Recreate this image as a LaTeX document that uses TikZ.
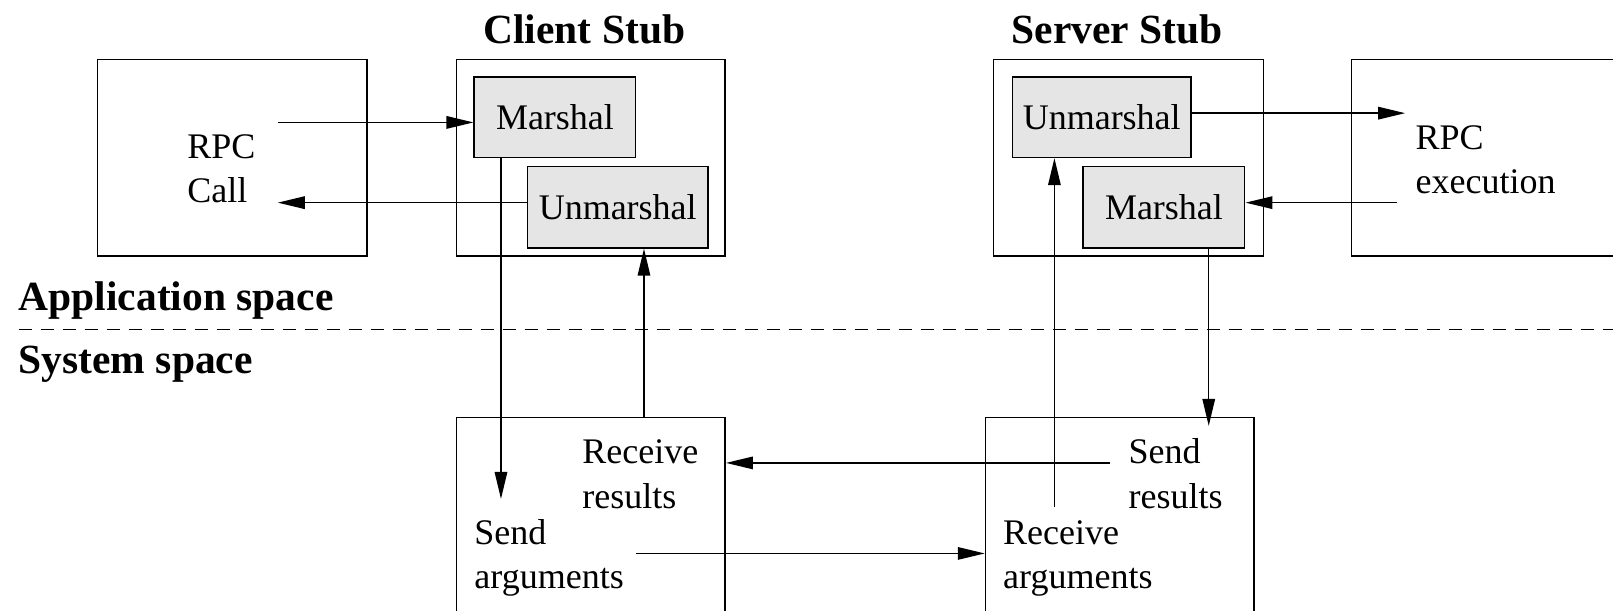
\documentclass[tikz,border=0pt]{standalone}
\usepackage{fontspec}
\setmainfont{Liberation Serif}
\usetikzlibrary{arrows.meta,fit}
\begin{document}
\begin{tikzpicture}[x=1.0287pt,y=-1.0287pt,
  box/.style={draw,line width=1.5pt,inner sep=0pt},
  inbox/.style={draw,line width=1.5pt,fill=black!10,inner sep=0pt},
  txt/.style={font=\fontsize{36}{44}\selectfont},
  lbl/.style={inner sep=0pt,anchor=base west,align=left,font=\fontsize{36}{44.2}\selectfont},
  ttl/.style={inner sep=0pt,anchor=base west,font=\fontsize{41.5}{48}\selectfont\bfseries},
  arr/.style={line width=1.5pt,-{Triangle[length=27pt,width=12.5pt]}}]
\useasboundingbox (0,0) rectangle (1568,593);
\clip (0,0) rectangle (1568,593);
% titles
\node[ttl,anchor=base] (tcs) at (568,42) {Client Stub};
\node[ttl,anchor=base] (tss) at (1086,42) {Server Stub};
\node[ttl] (tapp) at (18,302) {Application space};
\node[ttl] (tsys) at (18,363) {System space};
\draw[line width=1.3pt,dash pattern=on 13pt off 9pt] (18,320) -- (1568,320);
% upper boxes
\node[box,fit={(95,58) (357,249)}] (app) {};
\node[box,fit={(444,58) (705,249)}] (cs) {};
\node[box,fit={(966,58) (1228,249)}] (ss) {};
\node[box,fit={(1314,58) (1640,249)}] (srv) {};
\node[inbox,fit={(461,75) (618,153)}] (cm) {};
\node[inbox,fit={(513,162) (688,241)}] (cu) {};
\node[inbox,fit={(984,75) (1158,153)}] (su) {};
\node[inbox,fit={(1053,162) (1210,241)}] (sm) {};
\node[txt] (cmt) at (cm.center) {Marshal};
\node[txt] (cut) at (cu.center) {Unmarshal};
\node[txt] (sut) at (su.center) {Unmarshal};
\node[txt] (smt) at (sm.center) {Marshal};
% lower boxes
\node[box,fit={(444,406) (705,640)}] (cl) {};
\node[box,fit={(958,406) (1219,640)}] (sl) {};
% texts (base = last line)
\node[lbl] (rpccall) at (182,197) {RPC\\Call};
\node[lbl] (rpcexec) at (1376,188) {RPC\\execution};
\node[lbl] (recvres) at (566,494) {Receive\\results};
\node[lbl] (sendarg) at (461,572) {Send\\arguments};
\node[lbl] (sendres) at (1097,494) {Send\\results};
\node[lbl] (recvarg) at (975,572) {Receive\\arguments};
% free ends
\coordinate (a1) at (270,119);
\coordinate (a2) at (270,197);
\coordinate (a3) at (487,485);
\coordinate (a4) at (626,406);
\coordinate (a5) at (1079,450);
\coordinate (a6) at (618,538);
\coordinate (a7) at (1025,493);
\coordinate (a8) at (1175,414);
\coordinate (a9) at (1366,110);
\coordinate (a10) at (1358,197);
% arrows
\draw[arr] (a1) -- (a1 -| cm.west);
\draw[arr] (a2 -| cu.west) -- (a2);
\draw[arr] (a3 |- cm.south) -- (a3);
\draw[arr] (a4) -- (a4 |- cu.south);
\draw[arr] (a5) -- (a5 -| cl.east);
\draw[arr] (a6) -- (a6 -| sl.west);
\draw[arr] (a7) -- (a7 |- su.south);
\draw[arr] (a8 |- sm.south) -- (a8);
\draw[arr] (a9 -| su.east) -- (a9);
\draw[arr] (a10) -- (a10 -| sm.east);
\end{tikzpicture}
\end{document}
